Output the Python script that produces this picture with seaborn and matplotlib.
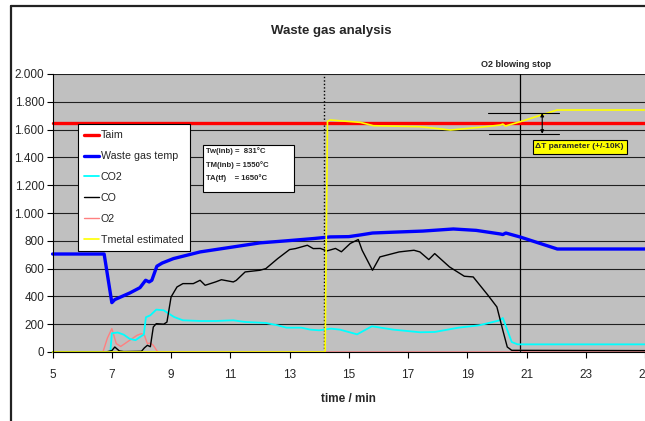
import matplotlib
matplotlib.use("Agg")
import matplotlib.pyplot as plt
from matplotlib.ticker import FuncFormatter, MultipleLocator
from matplotlib.patches import Rectangle
import seaborn as sns
import pandas as pd

# ---- data ----
taim_t = [5, 25]
taim_v = [1650, 1650]

wg_t = [5.0, 6.74, 7.0, 7.1, 7.61, 7.95, 8.14, 8.26, 8.35, 8.52, 8.7, 9.08, 9.98, 11.1, 12.0,
        12.9, 13.8, 14.37, 15.0, 15.39, 15.8, 16.5, 17.5, 18.53, 19.3, 20.12, 20.2, 20.3,
        20.79, 22.04, 25.0]
wg_v = [705, 705, 355, 377, 425, 463, 516, 504, 516, 617, 640, 672, 720, 756, 785,
        800, 816, 828, 830, 842, 856, 862, 870, 885, 875, 849, 845, 856,
        827, 741, 741]

co2_t = [5.0, 6.95, 7.0, 7.2, 7.4, 7.6, 7.8, 8.0, 8.08, 8.15, 8.3, 8.5, 8.75, 9.1, 9.4, 10.0,
         10.5, 11.1, 11.5, 12.2, 12.6, 12.9, 13.4, 13.7, 14.0, 14.4, 14.7, 15.28, 15.78,
         16.5, 17.4, 17.9, 18.7, 19.4, 20.1, 20.2, 20.5, 20.7, 25.0]
co2_v = [0, 0, 135, 140, 125, 95, 85, 115, 125, 250, 264, 305, 300, 252, 228, 223,
         223, 228, 216, 209, 192, 175, 175, 161, 156, 168, 161, 127, 185,
         161, 142, 144, 175, 192, 228, 245, 72, 55, 55]

co_t = [5.0, 6.8, 7.0, 7.1, 7.25, 7.4, 8.0, 8.1, 8.2, 8.3, 8.4, 8.5, 8.75, 8.86, 9.0, 9.2,
        9.4, 9.75, 9.98, 10.15, 10.5, 10.7, 11.1, 11.2, 11.5, 12.0, 12.2, 12.6, 13.0, 13.2,
        13.6, 13.8, 14.04, 14.26, 14.55, 14.75, 15.05, 15.32, 15.45, 15.8, 16.05, 16.7,
        17.2, 17.4, 17.7, 17.9, 18.4, 18.9, 19.2, 19.7, 20.0, 20.2, 20.35, 20.5, 25.0]
co_v = [0, 0, 10, 36, 8, 3, 5, 30, 48, 38, 180, 204, 200, 215, 396, 468,
        492, 492, 516, 480, 504, 520, 504, 515, 576, 588, 600, 672, 737, 744,
        768, 744, 745, 727, 745, 721, 781, 809, 732, 588, 684, 720,
        732, 720, 665, 708, 612, 545, 540, 408, 324, 156, 36, 12, 10]

o2_t = [5.0, 6.7, 6.85, 7.0, 7.15, 7.3, 7.6, 7.85, 8.0, 8.1, 8.2, 8.3, 8.4, 8.55, 20.6,
        20.8, 21.0, 25.0]
o2_v = [0, 0, 100, 168, 60, 40, 84, 120, 132, 120, 60, 65, 48, 0, 0,
        12, 0, 0]

tm_t = [5.0, 14.2, 14.28, 14.37, 15.39, 15.83, 17.4, 18.43, 19.44, 20.12, 20.2, 20.29,
        20.79, 22.03, 25.0]
tm_v = [0, 0, 1660, 1669, 1652, 1628, 1621, 1597, 1617, 1633, 1640, 1626,
        1657, 1741, 1741]

x_ticks = [5, 7, 9, 11, 13, 15, 17, 19, 21, 23, 25]
blow_stop_t = 20.79
tmetal_start_t = 14.17
dT_upper, dT_lower = 1720, 1570
info_lines = ["Tw(inb) =  831°C", "TM(inb) = 1550°C", "TA(tf)    = 1650°C"]

series = [
    ("Taim", taim_t, taim_v, "#FF0000", 2.4),
    ("Waste gas temp", wg_t, wg_v, "#0000FF", 2.4),
    ("CO2", co2_t, co2_v, "#00FFFF", 1.3),
    ("CO", co_t, co_v, "#000000", 1.0),
    ("O2", o2_t, o2_v, "#FF8080", 1.0),
    ("Tmetal estimated", tm_t, tm_v, "#FFFF00", 1.2),
]

sns.set_theme(style="white")
plt.rcParams["font.family"] = ["Liberation Sans", "DejaVu Sans"]

fig = plt.figure(figsize=(6.45, 4.21), dpi=100)
ax = fig.add_axes([52.6 / 645, 69 / 421, 1 - 52.6 / 645, 278 / 421])
ax.set_facecolor("#C0C0C0")

# outer chart frame
fig.add_artist(plt.Line2D([11 / 645, 11 / 645], [0, 1 - 6 / 421], color="#222222", lw=1.6,
                          transform=fig.transFigure))
fig.add_artist(plt.Line2D([11 / 645, 1], [1 - 6 / 421, 1 - 6 / 421], color="#222222", lw=1.6,
                          transform=fig.transFigure))

# gridlines
for gv in range(200, 2001, 200):
    ax.axhline(gv, color="#202020", lw=0.8, zorder=1)

lookup = {s[0]: s for s in series}
for name in ["O2", "CO2", "CO", "Waste gas temp", "Taim", "Tmetal estimated"]:
    n, t, v, c, lw = lookup[name]
    df = pd.DataFrame({"t": t, "v": v})
    sns.lineplot(data=df, x="t", y="v", ax=ax, color=c, lw=lw, label=n, zorder=3,
                 legend=False, estimator=None, sort=False, clip_on=False)

ax.axvline(tmetal_start_t, color="black", lw=1.0, ls=(0, (1, 1.5)), zorder=2)
ax.axvline(blow_stop_t, color="black", lw=0.9, zorder=2)

ax.set_xlim(5, 25)
ax.set_ylim(0, 2000)
ax.set_xticks(x_ticks)
ax.yaxis.set_major_locator(MultipleLocator(200))
ax.yaxis.set_major_formatter(FuncFormatter(lambda v, p: f"{int(round(v)):,}".replace(",", ".")))
ax.tick_params(axis="both", labelsize=8.5, direction="out", length=4, width=0.8, color="black")
ax.tick_params(axis="x", pad=8)
ax.tick_params(axis="y", pad=2)
ax.tick_params(left=True, bottom=True)
for sp in ["top", "right"]:
    ax.spines[sp].set_visible(False)
for sp in ["left", "bottom"]:
    ax.spines[sp].set_color("black")
    ax.spines[sp].set_linewidth(0.8)
    ax.spines[sp].set_zorder(4)
ax.set_xlabel("time / min", fontsize=8.5, fontweight="bold", labelpad=9)
ax.set_ylabel("")

fig.text(331 / 645, 1 - 31 / 421, "Waste gas analysis", fontsize=9.5, fontweight="bold",
         ha="center", va="center")
ax.text(blow_stop_t - 0.15, 2070, "O2 blowing stop", fontsize=6.5, fontweight="bold",
        ha="center", va="center", clip_on=False)

# legend
handles = [plt.Line2D([], [], color=c, lw=lw) for n, t, v, c, lw in series]
leg = ax.legend(handles, [s[0] for s in series], loc="upper left",
                bbox_to_anchor=((78 - 52.6) / (645 - 52.6), (352 - 124) / 278),
                fontsize=7.7, frameon=True, fancybox=False, framealpha=1,
                edgecolor="black", handlelength=1.4, handletextpad=0.15,
                borderpad=0.6, labelspacing=1.02, borderaxespad=0)
leg.get_frame().set_linewidth(0.8)
leg.set_zorder(5)

# info box
ax.add_patch(Rectangle((10.08, 1151), 13.16 - 10.08, 1489 - 1151, fc="white", ec="black",
                       lw=0.8, zorder=6))
for txt, yv in zip(info_lines, [1446, 1345, 1252]):
    ax.text(10.17, yv, txt, fontsize=5.6, fontweight="bold", ha="left", va="center", zorder=7)

# delta T annotation
ax.plot([19.7, 22.1], [dT_upper, dT_upper], color="black", lw=0.8, zorder=4)
ax.plot([19.75, 22.1], [dT_lower, dT_lower], color="black", lw=0.8, zorder=4)
ax.annotate("", xy=(21.53, dT_upper), xytext=(21.53, dT_lower),
            arrowprops=dict(arrowstyle="<|-|>", color="black", lw=0.8,
                            mutation_scale=5, shrinkA=0, shrinkB=0), zorder=4)
ax.add_patch(Rectangle((21.23, 1424), 24.4 - 21.23, 1525 - 1424, fc="#FFFF00", ec="black",
                       lw=0.8, zorder=6))
ax.text(21.3, 1475, "ΔT parameter (+/-10K)", fontsize=6, fontweight="bold",
        ha="left", va="center", zorder=7)

fig.savefig("out.png", dpi=100)
